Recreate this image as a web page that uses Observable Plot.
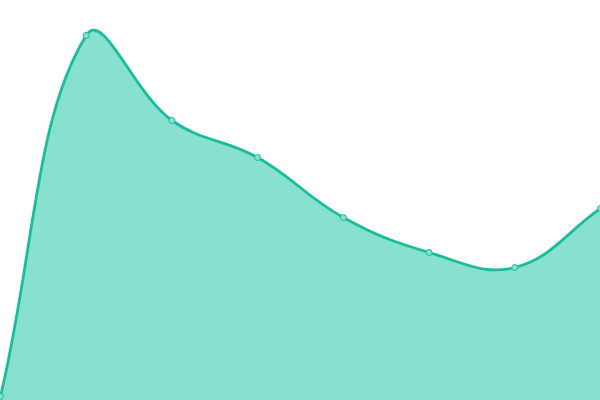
<!DOCTYPE html>
<html>
<head>
<meta charset="utf-8">
<script src="https://cdn.jsdelivr.net/npm/d3@7"></script>
<script src="https://cdn.jsdelivr.net/npm/@observablehq/plot@0.6"></script>
<style>
  html, body { margin: 0; padding: 0; background: #fff; }
  #chart svg { display: block; overflow: visible; }
</style>
</head>
<body>
<div id="chart"></div>
<script>
const xs = [0, 1, 2, 3, 4, 5, 6, 7];
const values = [1, 91.25, 70, 60.75, 45.75, 37, 33.25, 48];
const data = xs.map((x, i) => ({x, y: values[i]}));

// Tension-based bezier spline (distance-weighted cardinal), as a d3 curve factory
function tensionSpline(tension) {
  return function(context) {
    let line, pts;
    return {
      areaStart() { line = 0; },
      areaEnd() { line = NaN; },
      lineStart() { pts = []; },
      point(x, y) { pts.push([+x, +y]); },
      lineEnd() {
        const n = pts.length;
        if (n) {
          if (line) context.lineTo(pts[0][0], pts[0][1]);
          else context.moveTo(pts[0][0], pts[0][1]);
          if (n === 2) context.lineTo(pts[1][0], pts[1][1]);
          else if (n > 2) {
            const cps = pts.map((p, i) => {
              const prev = pts[i - 1] || p, next = pts[i + 1] || p;
              const d01 = Math.hypot(p[0] - prev[0], p[1] - prev[1]);
              const d12 = Math.hypot(next[0] - p[0], next[1] - p[1]);
              let s01 = d01 / (d01 + d12), s12 = d12 / (d01 + d12);
              if (!isFinite(s01)) s01 = 0;
              if (!isFinite(s12)) s12 = 0;
              const fa = tension * s01, fb = tension * s12;
              const dx = next[0] - prev[0], dy = next[1] - prev[1];
              return {
                prev: [p[0] - fa * dx, p[1] - fa * dy],
                next: [p[0] + fb * dx, p[1] + fb * dy]
              };
            });
            for (let i = 1; i < n; i++) {
              context.bezierCurveTo(cps[i - 1].next[0], cps[i - 1].next[1],
                                    cps[i].prev[0], cps[i].prev[1],
                                    pts[i][0], pts[i][1]);
            }
          }
        }
        if (line || (line !== 0 && n === 1)) context.closePath();
        line = 1 - line;
      }
    };
  };
}
const curve = tensionSpline(0.4);

const chart = Plot.plot({
  width: 600,
  height: 400,
  margin: 0,
  x: {domain: [0, 7], axis: null},
  y: {domain: [0, 100], axis: null},
  marks: [
    Plot.areaY(data, {x: "x", y: "y", curve, fill: "#88e0cf"}),
    Plot.lineY(data, {x: "x", y: "y", curve, stroke: "#1abc9c", strokeWidth: 2.8}),
    Plot.dot(data, {x: "x", y: "y", r: 3, fill: "#88e0cf", stroke: "#1abc9c", strokeWidth: 1})
  ]
});
document.getElementById("chart").appendChild(chart);
</script>
</body>
</html>
